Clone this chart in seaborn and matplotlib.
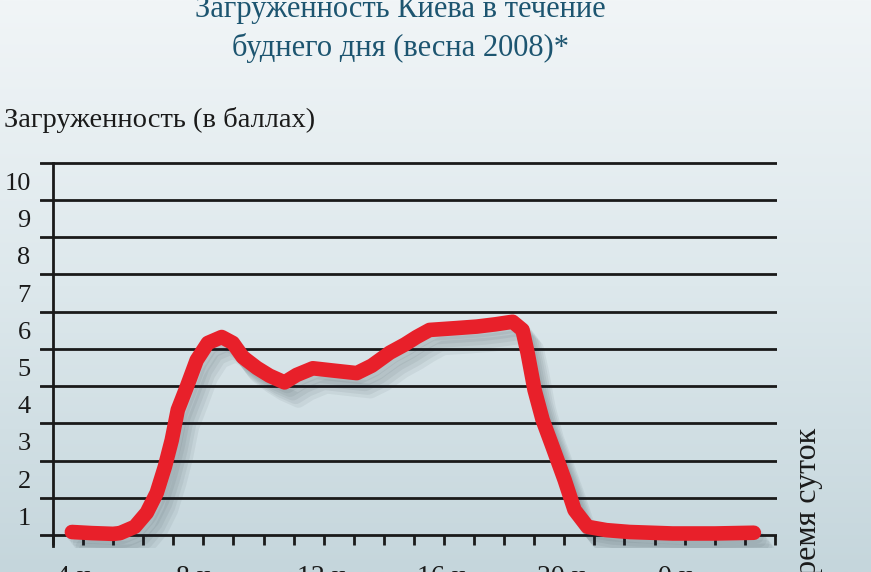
"""
plot.py - weekday traffic load in Kyiv (spring 2008), redrawn with seaborn.
"""

import numpy as np
import pandas as pd
import matplotlib
matplotlib.use("Agg")
import matplotlib.pyplot as plt
import matplotlib.patheffects as pe
import seaborn as sns

# ── Data ───────────────────────────────────────────────────────────────────────
HOURS = [4.63, 5.3, 6.0, 6.23, 6.72, 7.12, 7.45, 7.72, 7.95, 8.15, 8.45, 8.78,
         9.15, 9.61, 9.98, 10.31, 10.78, 11.2, 11.7, 12.1, 12.64, 13.3, 14.1,
         14.6, 15.2, 15.7, 16.09, 16.52, 17.42, 18.09, 18.7, 19.28, 19.61,
         19.78, 20.01, 20.28, 20.61, 21.01, 21.34, 21.77, 22.4, 23.17, 24.6,
         26.0, 27.3]
LOAD = [0.08, 0.05, 0.03, 0.05, 0.22, 0.6, 1.13, 1.83, 2.55, 3.36, 3.98, 4.7,
        5.16, 5.32, 5.16, 4.78, 4.49, 4.28, 4.1, 4.3, 4.48, 4.42, 4.35,
        4.55, 4.9, 5.12, 5.32, 5.51, 5.56, 5.6, 5.66, 5.73, 5.51,
        4.89, 3.9, 3.09, 2.37, 1.48, 0.67, 0.22, 0.13, 0.08, 0.04,
        0.04, 0.06]

X_MAJOR = [4, 8, 12, 16, 20, 24]
X_LABELS = ["4 ч.", "8 ч.", "12 ч.", "16 ч.", "20 ч.", "0 ч."]
Y_LEVELS = list(range(0, 11))
Y_LABELS = [str(v) for v in range(1, 11)]

TITLE = ["Загруженность Киева в течение", "буднего дня (весна 2008)*"]
YLABEL = "Загруженность (в баллах)"
XLABEL = "время суток"

# ── Style ──────────────────────────────────────────────────────────────────────
sns.set_theme(style="white")
plt.rcParams["font.family"] = ["Liberation Serif", "DejaVu Serif"]

W, H = 871, 572
RED = "#e8202a"
INK = "#1a1a1a"
TEAL = "#1d5570"

fig = plt.figure(figsize=(W / 100, H / 100), dpi=100)

# background gradient (light top -> grey-blue bottom)
bg = fig.add_axes([0, 0, 1, 1], zorder=-10)
grad = np.linspace(0, 1, 256)[:, None]
cmap = matplotlib.colors.LinearSegmentedColormap.from_list(
    "bg", ["#f1f5f7", "#dde8ec", "#c5d6dc"])
bg.imshow(grad, aspect="auto", cmap=cmap, extent=[0, 1, 0, 1])
bg.axis("off")


def px(x, y):
    """pixel (from top-left) -> figure fraction"""
    return x / W, 1 - y / H


# main axes: x 40..777 px, y 161..548 px
left, top = px(40, 161)
right, bottom = px(777, 548)
ax = fig.add_axes([left, bottom, right - left, top - bottom])
ax.patch.set_alpha(0)

ax.set_xlim(3.57, 28.07)
ax.set_ylim(-0.35, 10.05)

# horizontal rules
for v in Y_LEVELS:
    ax.axhline(v, color=INK, lw=2.0, zorder=1)

for s in ["top", "right"]:
    ax.spines[s].set_visible(False)
ax.spines["bottom"].set_visible(False)
ax.spines["left"].set_position(("data", 4))
ax.spines["left"].set_bounds(-0.3, 10)
ax.spines["left"].set_color(INK)
ax.spines["left"].set_linewidth(2.0)

# hourly ticks hanging below the zero line
ax.vlines(np.arange(4, 29), -0.28, 0, color=INK, lw=2.0, zorder=1)
ax.set_xticks([])
ax.set_yticks([v + 0.5 for v in Y_LEVELS[:-1]])
ax.set_yticklabels(Y_LABELS, fontsize=19, color=INK)
ax.tick_params(axis="y", length=0, pad=16)

for h, lab in zip(X_MAJOR, X_LABELS):
    ax.text(h + 0.1, -0.8, lab, fontsize=20, color=INK, ha="left", va="top",
            clip_on=False)

df = pd.DataFrame({"hour": HOURS, "load": LOAD})
shadow = [pe.SimpleLineShadow(offset=(o, -o * 1.3), shadow_color="#1a2a30",
                              alpha=0.06) for o in (2, 4, 6, 8, 10)]
sns.lineplot(data=df, x="hour", y="load", ax=ax, color=RED, lw=10.5,
             solid_capstyle="round", solid_joinstyle="round", zorder=5,
             path_effects=shadow + [pe.Normal()])
ax.set_xlabel("")
ax.set_ylabel("")

# texts
for i, line in enumerate(TITLE):
    x, y = px(400, 10 + 38 * i)
    fig.text(x, y, line, fontsize=22, color=TEAL, ha="center", va="center")

x, y = px(4, 120)
fig.text(x, y, YLABEL, fontsize=20.5, color=INK, ha="left", va="center")

x, y = px(808, 428)
fig.text(x, y, XLABEL, fontsize=23, color=INK, ha="center", va="top",
         rotation=90)

fig.savefig("out.png", dpi=100)
